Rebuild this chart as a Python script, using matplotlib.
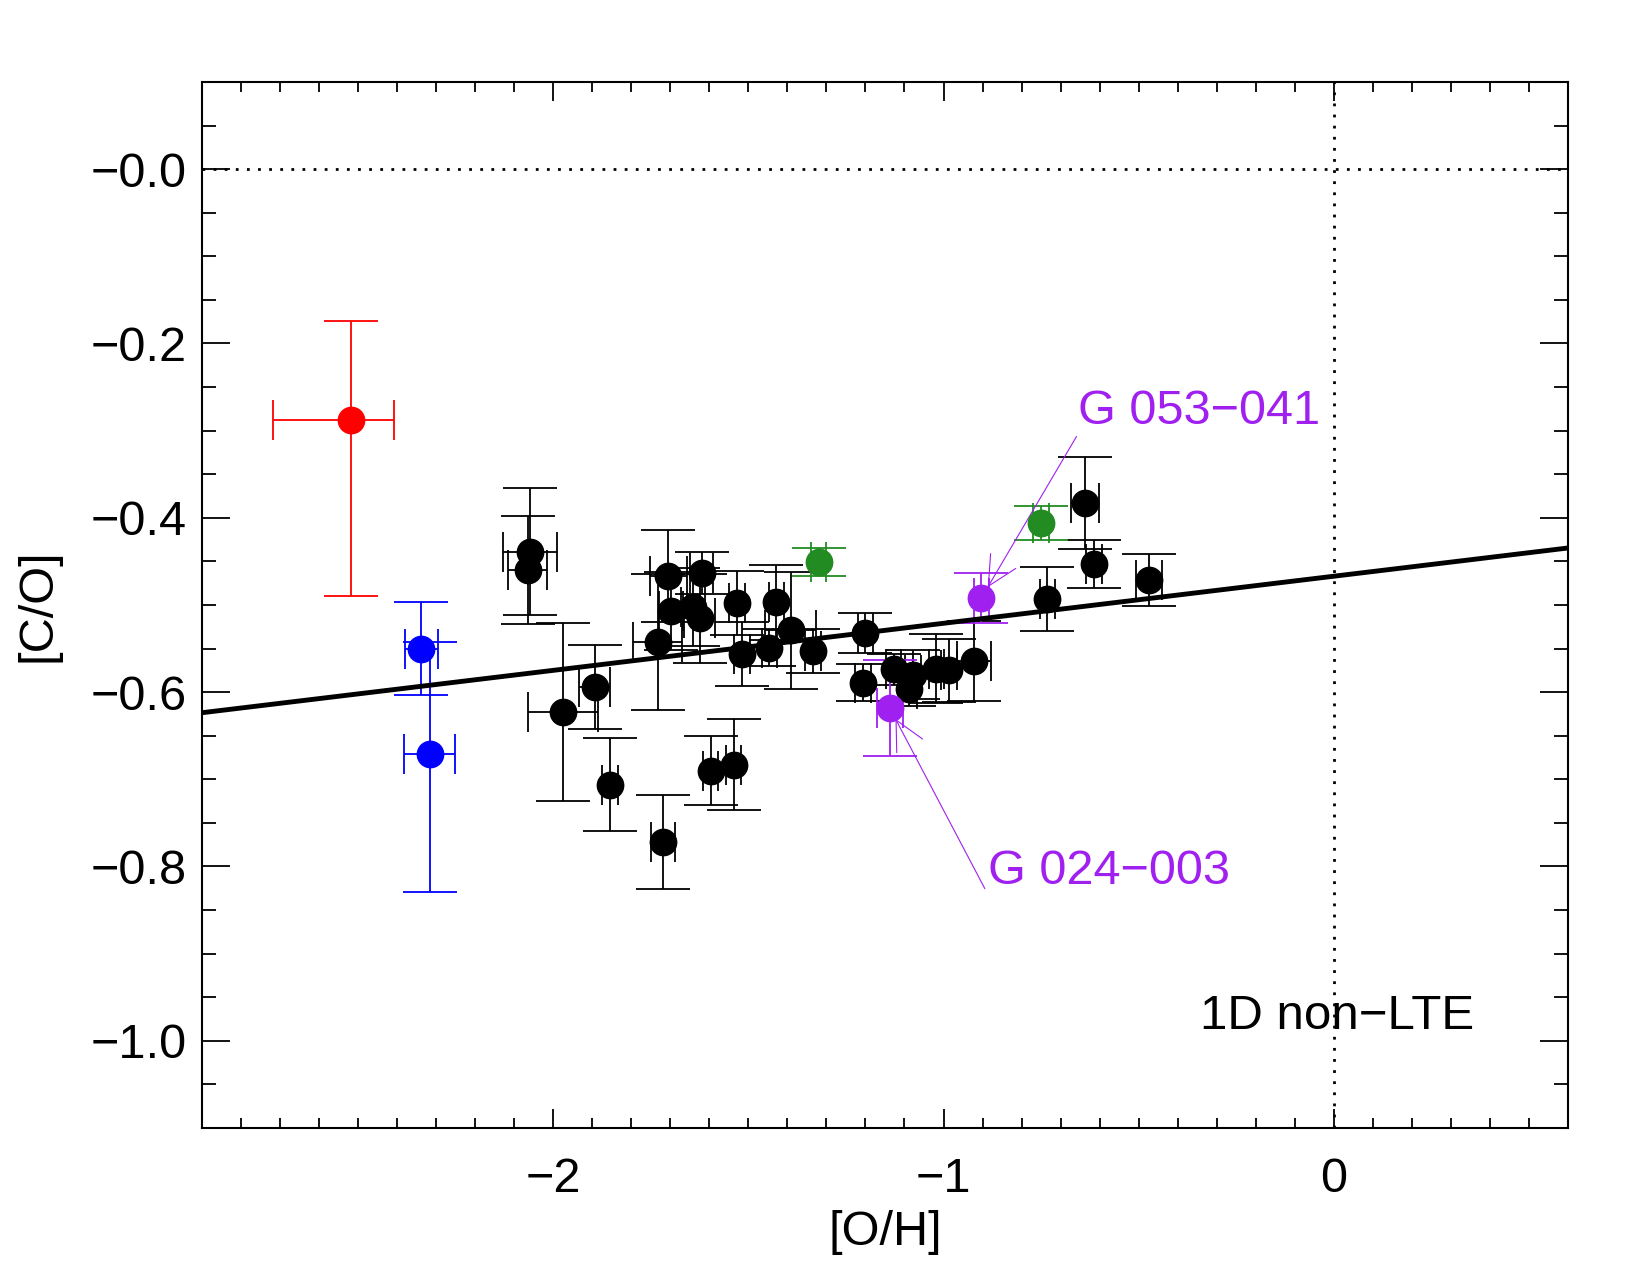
import matplotlib
matplotlib.use("Agg")
import matplotlib.pyplot as plt
import numpy as np
from matplotlib.ticker import MultipleLocator, FixedLocator, FixedFormatter

plt.rcParams['font.family'] = ['Liberation Sans', 'DejaVu Sans']
plt.rcParams['font.size'] = 35

# main sample (black)
oh = [-2.059, -2.065, -1.975, -1.894, -1.854, -1.719, -1.732, -1.705, -1.698, -1.620,
      -1.642, -1.625, -1.529, -1.517, -1.428, -1.446, -1.392, -1.334, -1.200, -1.206,
      -1.597, -1.538, -1.128, -1.078, -1.089, -1.018, -0.986, -0.922, -0.734, -0.638,
      -0.615, -0.474]
co = [-0.439, -0.460, -0.623, -0.594, -0.706, -0.772, -0.542, -0.467, -0.507, -0.463,
      -0.502, -0.515, -0.498, -0.556, -0.497, -0.549, -0.529, -0.553, -0.532, -0.589,
      -0.690, -0.683, -0.574, -0.580, -0.596, -0.573, -0.575, -0.564, -0.493, -0.383,
      -0.453, -0.471]
oh_err = [0.069, 0.050, 0.090, 0.040, 0.020, 0.031, 0.063, 0.048, 0.030, 0.030,
          0.030, 0.040, 0.020, 0.020, 0.020, 0.020, 0.065, 0.020, 0.020, 0.020,
          0.020, 0.020, 0.020, 0.020, 0.020, 0.020, 0.020, 0.043, 0.020, 0.036,
          0.020, 0.034]
co_err = [0.073, 0.062, 0.102, 0.048, 0.053, 0.054, 0.078, 0.053, 0.045, 0.024,
          0.045, 0.051, 0.037, 0.037, 0.043, 0.021, 0.067, 0.025, 0.023, 0.021,
          0.040, 0.052, 0.018, 0.028, 0.020, 0.040, 0.036, 0.046, 0.037, 0.053,
          0.027, 0.030]

# green
oh_g = [-1.320, -0.750]
co_g = [-0.451, -0.406]
oh_g_err = [0.020, 0.020]
co_g_err = [0.016, 0.019]

# purple (labelled stars)
oh_p = [-0.903, -1.138]
co_p = [-0.492, -0.618]
oh_p_err = [0.020, 0.033]
co_p_err = [0.029, 0.055]
names_p = ['G 053\u2212041', 'G 024\u2212003']
label_pos = [(-0.655, -0.292), (-0.887, -0.820)]

# blue (asymmetric errors: lower, upper)
oh_b = [-2.338, -2.317]
co_b = [-0.550, -0.671]
oh_b_err = [[0.042, 0.065], [0.042, 0.065]]
co_b_err = [[0.053, 0.158], [0.053, 0.128]]

# red
oh_r = [-2.517]
co_r = [-0.288]
oh_r_err = [[0.200], [0.108]]
co_r_err = [[0.202], [0.114]]

# linear fit
fit_slope = 0.054
fit_icpt = -0.467

fig = plt.figure(figsize=(16.5, 12.75), dpi=100)
ax = fig.add_axes([0.1224, 0.1153, 0.8279, 0.8204])


def plot_group(x, y, xe, ye, col):
    # x and y error bars have different cap sizes
    ax.errorbar(x, y, yerr=ye, fmt='none', ecolor=col, elinewidth=1.3,
                capsize=19.5, capthick=1.3, zorder=2)
    ax.errorbar(x, y, xerr=xe, fmt='none', ecolor=col, elinewidth=1.3,
                capsize=14.5, capthick=1.3, zorder=2)
    ax.plot(x, y, 'o', color=col, ms=20, mec='none', zorder=4)


plot_group(oh, co, oh_err, co_err, 'black')
plot_group(oh_g, co_g, oh_g_err, co_g_err, '#228b22')
plot_group(oh_p, co_p, oh_p_err, co_p_err, '#a020f0')
plot_group(oh_b, co_b, oh_b_err, co_b_err, 'blue')
plot_group(oh_r, co_r, oh_r_err, co_r_err, 'red')

xl = np.array([-2.9, 0.6])
ax.plot(xl, fit_icpt + fit_slope * xl, color='black', lw=3.5, zorder=3)

ax.axhline(0.0, color='black', ls=(0, (1, 3)), lw=2, zorder=1)
ax.axvline(0.0, color='black', ls=(0, (1, 3)), lw=2, zorder=1)

for name, (tx, ty), px, py in zip(names_p, label_pos, oh_p, co_p):
    ax.annotate(name, xy=(px, py), xytext=(tx, ty), color='#a020f0',
                fontsize=35, ha='left', va='baseline',
                arrowprops=dict(arrowstyle='->,head_length=0.6,head_width=0.3',
                                color='#a020f0', lw=0.8, shrinkA=0, shrinkB=9,
                                relpos=(0, 0)))

ax.text(-0.342, -0.987, '1D non\u2212LTE', fontsize=35.5, ha='left', va='baseline')

ax.set_xlim(-2.9, 0.6)
ax.set_ylim(-1.1, 0.1)
ax.xaxis.set_major_locator(MultipleLocator(1))
ax.xaxis.set_minor_locator(MultipleLocator(0.1))
yt = [-1.0, -0.8, -0.6, -0.4, -0.2, 0.0]
ax.yaxis.set_major_locator(FixedLocator(yt))
ax.yaxis.set_major_formatter(FixedFormatter(['\u22121.0', '\u22120.8', '\u22120.6',
                                             '\u22120.4', '\u22120.2', '\u22120.0']))
ax.yaxis.set_minor_locator(MultipleLocator(0.05))

ax.tick_params(axis='both', which='both', direction='in', top=True, right=True, width=1.3)
ax.tick_params(axis='x', which='major', length=14, pad=21)
ax.tick_params(axis='x', which='minor', length=7)
ax.tick_params(axis='y', which='major', length=20, pad=11)
ax.tick_params(axis='y', which='minor', length=10)
for s in ax.spines.values():
    s.set_linewidth(1.5)

ax.set_xlabel('[O/H]', labelpad=6)
ax.set_ylabel('[C/O]', labelpad=22)

fig.savefig('out.png', dpi=100)
